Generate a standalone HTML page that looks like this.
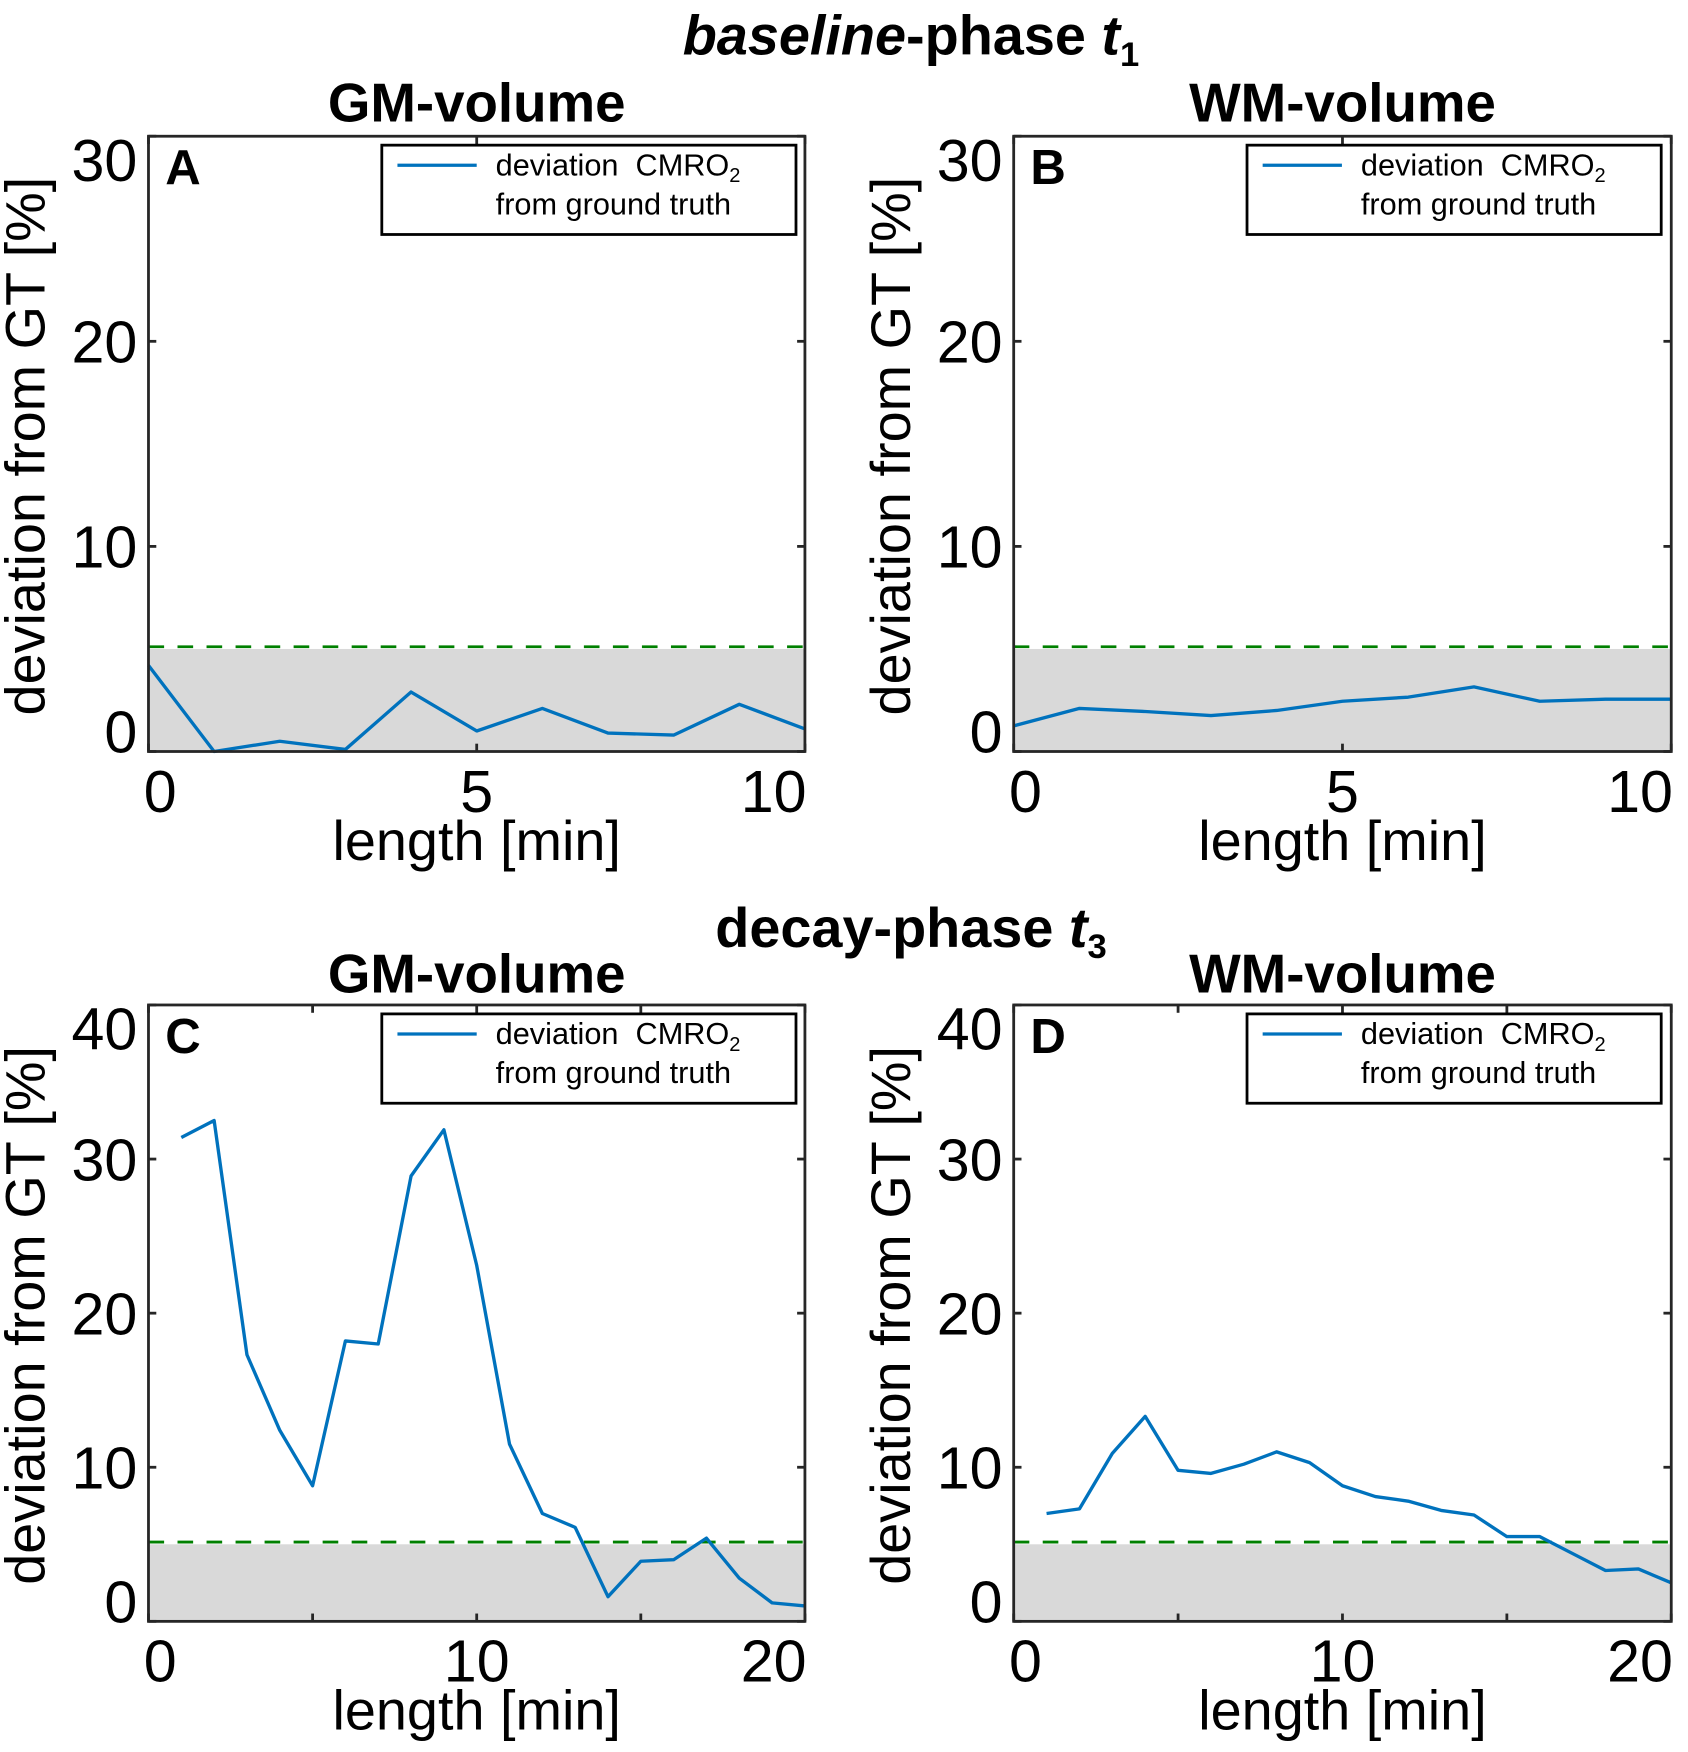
<!DOCTYPE html>
<html><head><meta charset="utf-8"><style>
html,body{margin:0;padding:0;background:#fff;}
svg{display:block;font-family:"Liberation Sans",Arial,sans-serif;}
</style></head><body>
<svg id="fig" width="1688" height="1752" viewBox="0 0 1512 1569" preserveAspectRatio="none" xmlns="http://www.w3.org/2000/svg">
<text x="816" y="49" text-anchor="middle" font-size="50" font-weight="bold"><tspan font-style="italic">baseline</tspan>-phase <tspan font-style="italic">t</tspan><tspan font-size="31" dy="10">1</tspan></text>
<text x="816" y="848" text-anchor="middle" font-size="50" font-weight="bold">decay-phase <tspan font-style="italic">t</tspan><tspan font-size="31" dy="10">3</tspan></text>
</svg>
<script>
const xA = [0,1,2,3,4,5,6,7,8,9,10];
const yA = [4.2,0,0.5,0.1,2.9,1.0,2.1,0.9,0.8,2.3,1.1];
const xB = [0,1,2,3,4,5,6,7,8,9,10];
const yB = [1.25,2.1,1.95,1.75,2.0,2.45,2.65,3.15,2.45,2.55,2.55];
const xC = [1,2,3,4,5,6,7,8,9,10,11,12,13,14,15,16,17,18,19,20];
const yC = [31.4,32.5,17.3,12.4,8.8,18.2,18.0,28.9,31.9,23.1,11.5,7.0,6.1,1.6,3.9,4.0,5.4,2.8,1.2,1.0];
const xD = [1,2,3,4,5,6,7,8,9,10,11,12,13,14,15,16,17,18,19,20];
const yD = [7.0,7.3,10.9,13.3,9.8,9.6,10.2,11.0,10.3,8.8,8.1,7.8,7.2,6.9,5.5,5.5,4.4,3.3,3.4,2.5];
const yTicksTop = [0,10,20,30];
const yTicksBottom = [0,10,20,30,40];
const xTicksTop = [0,5,10];
const xTicksBottom = [0,5,10,15,20];
const xLabelsTop = ["0","5","10"];
const xLabelsBottom = ["0","10","20"];
const xLabelValsBottom = [0,10,20];
const threshold = 5;

const NS = "http://www.w3.org/2000/svg";
const svg = document.getElementById('fig');
function mk(tag, attrs, parent){const e=document.createElementNS(NS,tag);for(const k in attrs)e.setAttribute(k,attrs[k]);(parent||svg).appendChild(e);return e;}

const panels = [
 {id:'a',letter:'A',title:'GM-volume',L:133,R:721,T:122,B:673,xmax:10,ymax:30,xs:xA,ys:yA,yt:yTicksTop,xt:xTicksTop,xl:xLabelsTop,xlv:xTicksTop,titleY:109},
 {id:'b',letter:'B',title:'WM-volume',L:908,R:1497,T:122,B:673,xmax:10,ymax:30,xs:xB,ys:yB,yt:yTicksTop,xt:xTicksTop,xl:xLabelsTop,xlv:xTicksTop,titleY:109},
 {id:'c',letter:'C',title:'GM-volume',L:133,R:721,T:900,B:1452,xmax:20,ymax:40,xs:xC,ys:yC,yt:yTicksBottom,xt:xTicksBottom,xl:xLabelsBottom,xlv:xLabelValsBottom,titleY:889},
 {id:'d',letter:'D',title:'WM-volume',L:908,R:1497,T:900,B:1452,xmax:20,ymax:40,xs:xD,ys:yD,yt:yTicksBottom,xt:xTicksBottom,xl:xLabelsBottom,xlv:xLabelValsBottom,titleY:889}
];

panels.forEach(p=>{
 const g = mk('g',{});
 
 
 const X = v => p.L + (v/p.xmax)*(p.R-p.L);
 const Y = v => p.B - (v/p.ymax)*(p.B-p.T);
 const cx = (p.L+p.R)/2;
 const t = mk('text',{x:cx,y:p.titleY,'text-anchor':'middle','font-size':49,'font-weight':'bold'},g);
 t.textContent = p.title;
 
 
 const r = mk('rect',{x:p.L,y:Y(threshold),width:p.R-p.L,height:p.B-Y(threshold),fill:'#d9d9d9'},g);
 
 
 const dl = mk('line',{x1:p.L,x2:p.R,y1:Y(threshold)-2,y2:Y(threshold)-2,stroke:'#008000','stroke-width':2.5,'stroke-dasharray':'14 12'},g);
 
 
 const pts = p.xs.map((x,i)=>X(x)+','+Y(p.ys[i])).join(' ');
 const pl = mk('polyline',{points:pts,fill:'none',stroke:'#0072BD','stroke-width':3,'stroke-linejoin':'round'},g);
 
 
 const box = mk('rect',{x:p.L,y:p.T,width:p.R-p.L,height:p.B-p.T,fill:'none',stroke:'#262626','stroke-width':2.5},g);
 
 
 p.yt.forEach(v=>{
  const y=Y(v);
  mk('line',{x1:p.L,x2:p.L+7,y1:y,y2:y,stroke:'#262626','stroke-width':2.5},g);
  mk('line',{x1:p.R,x2:p.R-7,y1:y,y2:y,stroke:'#262626','stroke-width':2.5},g);
  const cy = Math.min(Math.max(y,p.T+21),p.B-18);
  const tl = mk('text',{x:p.L-10,y:cy+19,'text-anchor':'end','font-size':53},g);
  tl.textContent = String(v);
  
  
 });
 p.xt.forEach(v=>{
  const x=X(v);
  mk('line',{x1:x,x2:x,y1:p.B,y2:p.B-7,stroke:'#262626','stroke-width':2.5},g);
  mk('line',{x1:x,x2:x,y1:p.T,y2:p.T+7,stroke:'#262626','stroke-width':2.5},g);
 });
 p.xlv.forEach((v,i)=>{
  const lbl=p.xl[i];
  const w = lbl.length*29;
  const x = Math.min(Math.max(X(v),p.L+w/2-4),p.R-w/2+1);
  const tl = mk('text',{x:x,y:p.B+54,'text-anchor':'middle','font-size':53},g);
  tl.textContent = lbl;
  
  
 });
 const xt = mk('text',{x:cx,y:p.B+97,'text-anchor':'middle','font-size':50},g);
 xt.textContent='length [min]';
 
 
 const ymid=(p.T+p.B)/2+2;
 const yt = mk('text',{x:p.L-93,y:ymid,'text-anchor':'middle','font-size':50,transform:'rotate(-90 '+(p.L-93)+' '+ymid+')'},g);
 yt.textContent='deviation from GT [%]';
 
 
 const lt = mk('text',{x:p.L+15,y:p.T+43,'font-size':44,'font-weight':'bold'},g);
 lt.textContent=p.letter;
 
 
 const lg = mk('g',{},g);
 
 
 const lx = p.L+209, ly = p.T+8;
 mk('rect',{x:lx,y:ly,width:371,height:80,fill:'#fff',stroke:'#000','stroke-width':2.5},lg);
 mk('line',{x1:lx+14,x2:lx+85,y1:ly+18,y2:ly+18,stroke:'#0072BD','stroke-width':3},lg);
 const l1 = mk('text',{x:lx+102,y:ly+27,'font-size':27.5},lg);
 l1.innerHTML='deviation&#160;&#160;CMRO<tspan font-size="18" dy="6">2</tspan>';
 
 
 const l2 = mk('text',{x:lx+102,y:ly+62,'font-size':27.5},lg);
 l2.textContent='from ground truth';
 
 
});
</script>
</body></html>
